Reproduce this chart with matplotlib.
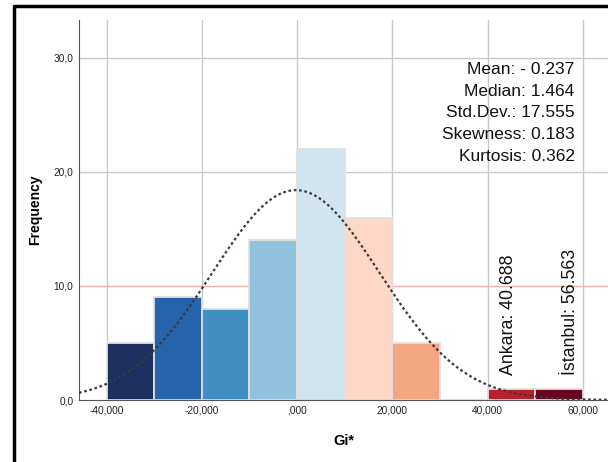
import numpy as np
import matplotlib
matplotlib.use("Agg")
import matplotlib.pyplot as plt
from matplotlib.lines import Line2D

# Data
bin_edges = [-40, -30, -20, -10, 0, 10, 20, 30, 40, 50, 60]
counts = [5, 9, 8, 14, 22, 16, 5, 0, 1, 1]
bar_colors = ['#1c2f5f', '#2563ab', '#3f8fc4', '#92c3de', '#d1e4f1',
              '#fdd8c6', '#f4a582', '#d6604d', '#b8202e', '#690320']
x_ticks = [-40, -20, 0, 20, 40, 60]
x_tick_labels = ['-40,000', '-20,000', ',000', '20,000', '40,000', '60,000']
y_ticks = [0, 10, 20, 30]
y_tick_labels = ['0,0', '10,0', '20,0', '30,0']
stats_lines = ['Mean: - 0.237', 'Median: 1.464', 'Std.Dev.: 17.555',
               'Skewness: 0.183', 'Kurtosis: 0.362']
mean_val = -0.237
std_val = 17.555
labels_top = [('Ankara: 40.688', 44.3), ('İstanbul: 56.563', 57.5)]

plt.rcParams['font.family'] = ['Liberation Sans', 'DejaVu Sans']

fig = plt.figure(figsize=(6.08, 4.62), dpi=100)
fig.patch.set_facecolor('white')
ax = fig.add_axes([79/608, 1-400/462, 1-79/608, (400-20)/462])

xmin, xmax = -45.8, 65.3
ax.set_xlim(xmin, xmax)
ax.set_ylim(0, 33.33)

# grid
for xv in x_ticks:
    ax.axvline(xv, color='#c8c8c8', lw=1.0, zorder=0)
for yv in y_ticks[1:]:
    c = '#e9b3a3' if yv == 10 else '#c8c8c8'
    ax.axhline(yv, color=c, lw=1.0, zorder=0)

# bars
lefts = bin_edges[:-1]
widths = np.diff(bin_edges)
ax.bar(lefts, counts, width=widths, align='edge', color=bar_colors,
       edgecolor='#e0e0e0', linewidth=1.3, zorder=2)

# normal curve
n = sum(counts)
bw = bin_edges[1] - bin_edges[0]
xs = np.linspace(xmin, xmax, 400)
ys = n * bw / (std_val * np.sqrt(2*np.pi)) * np.exp(-0.5*((xs-mean_val)/std_val)**2)
ax.plot(xs, ys, color='#3a3a3a', lw=1.6, ls=(0, (1.2, 1.2)), zorder=3)

# annotations
for txt, xv in labels_top:
    ax.text(xv, 2.2, txt, rotation=90, ha='center', va='bottom',
            fontsize=12.8, color='#111111', zorder=4)

ax.text(0.937, 0.889, '\n'.join(stats_lines), transform=ax.transAxes,
        ha='right', va='top', fontsize=12.5, linespacing=1.55, color='#111111')

# axes styling
ax.set_xticks(x_ticks)
ax.set_xticklabels(x_tick_labels, fontsize=7.3)
ax.set_yticks(y_ticks)
ax.set_yticklabels(y_tick_labels, fontsize=7.3)
ax.tick_params(length=0, pad=4, colors='#222222')
for s in ['top', 'right']:
    ax.spines[s].set_visible(False)
ax.spines['left'].set_color('#555555')
ax.spines['bottom'].set_color('#555555')
ax.set_xlabel('Gi*', fontsize=10.5, fontweight='bold', labelpad=13)
ax.set_ylabel('Frequency', fontsize=10, fontweight='bold', labelpad=8)

# outer frame
fig.add_artist(Line2D([14/608, 14/608, 1], [0, 1-5.5/462, 1-5.5/462],
                      transform=fig.transFigure, color='black', lw=2.5))

fig.savefig('out.png', dpi=100)
